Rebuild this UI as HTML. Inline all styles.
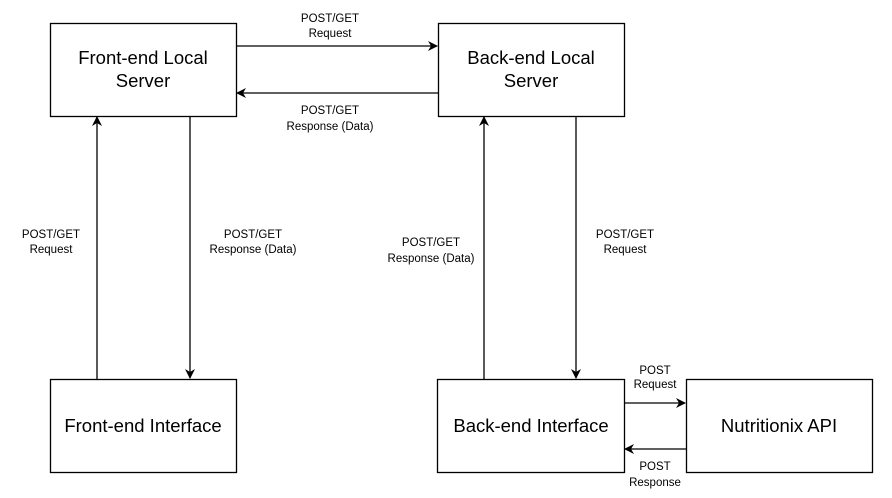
<!DOCTYPE html>
<html><head><style>body{margin:0;background:#fff}</style></head><body>
<svg width="892" height="493" xmlns="http://www.w3.org/2000/svg" font-family="Liberation Sans, Arial, sans-serif">
<defs><marker id="a" markerWidth="10" markerHeight="10" refX="9" refY="5" orient="auto" markerUnits="userSpaceOnUse"><path d="M0,0 L10,5 L0,10 L3,5 Z" fill="#000"/></marker></defs>
<g fill="#fff" stroke="#000" stroke-width="1.3">
<rect x="50.5" y="23.5" width="186" height="93"/>
<rect x="438.5" y="23.5" width="186" height="93"/>
<rect x="50.5" y="379.5" width="186" height="93"/>
<rect x="437.5" y="379.5" width="187" height="93"/>
<rect x="686.5" y="379.5" width="186" height="93"/>
</g>
<g stroke="#000" stroke-width="1.3" marker-end="url(#a)">
<line x1="237" y1="46" x2="437" y2="46"/>
<line x1="438" y1="93" x2="237" y2="93"/>
<line x1="97" y1="379" x2="97" y2="117"/>
<line x1="190" y1="117" x2="190" y2="378"/>
<line x1="484" y1="379" x2="484" y2="117"/>
<line x1="576" y1="117" x2="576" y2="378"/>
<line x1="625" y1="403" x2="685" y2="403"/>
<line x1="686" y1="449" x2="625" y2="449"/>
</g>
<g font-size="18.5" text-anchor="middle" fill="#000">
<text x="143" y="64">Front-end Local</text><text x="143" y="87">Server</text>
<text x="531" y="64">Back-end Local</text><text x="531" y="87">Server</text>
<text x="143" y="432">Front-end Interface</text>
<text x="531" y="432">Back-end Interface</text>
<text x="779" y="432">Nutritionix API</text>
</g>
<g font-size="11.5" text-anchor="middle" fill="#000">
<text x="330" y="22">POST/GET</text><text x="330" y="37">Request</text>
<text x="330" y="114">POST/GET</text><text x="330" y="130">Response (Data)</text>
<text x="51" y="238">POST/GET</text><text x="51" y="253">Request</text>
<text x="253" y="238">POST/GET</text><text x="253" y="253">Response (Data)</text>
<text x="431" y="246">POST/GET</text><text x="431" y="262">Response (Data)</text>
<text x="625" y="238">POST/GET</text><text x="625" y="253">Request</text>
<text x="655" y="374">POST</text><text x="655" y="388">Request</text>
<text x="655" y="470">POST</text><text x="655" y="486">Response</text>
</g>
</svg>
</body></html>
